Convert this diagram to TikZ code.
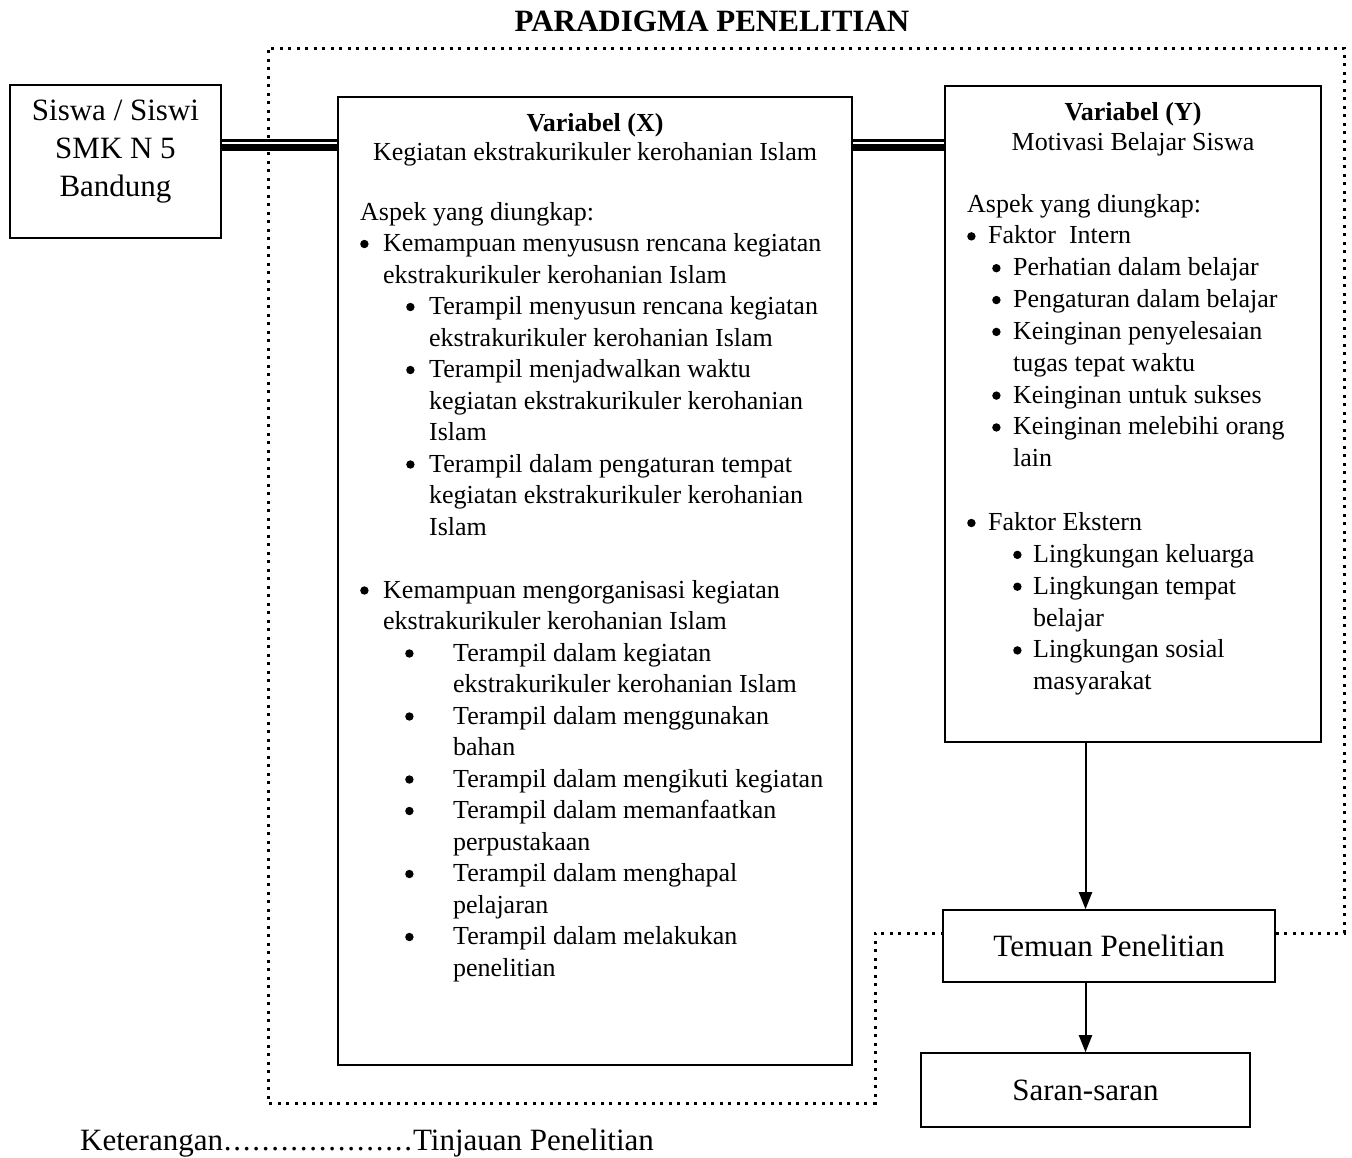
\documentclass[tikz,border=0pt]{standalone}
\usepackage{fontspec}
\setmainfont{Liberation Serif}
\usetikzlibrary{arrows.meta}
\newcommand\bul{\tikz[baseline=0pt,x=1pt,y=1pt]\fill (4.2,7.5) circle[radius=4.2pt];}
\newcommand\itm[3]{\hspace*{#1pt}\makebox[#2pt][l]{\bul}#3\par}
\newcommand\cnt[2]{\hspace*{#1pt}#2\par}
\newcommand\blankln{\mbox{}\par}
\begin{document}
\begin{tikzpicture}[x=1pt,y=-1pt,
  box/.style={draw, line width=1.6pt, inner sep=0pt},
  arr/.style={line width=2pt, -{Triangle[length=17pt,width=13pt]}},
  dotline/.style={line width=3pt, dash pattern=on 3pt off 5.5pt},
  big/.style={font=\fontsize{31}{38}\selectfont},
  ]
\useasboundingbox (0,0) rectangle (1352,1157);
\node[font=\bfseries\fontsize{31}{38}\selectfont, anchor=base, inner sep=0pt] (title) at (712,31) {PARADIGMA PENELITIAN};

% Siswa box
\node[box, minimum width=211pt, minimum height=153pt] (siswa) at (115.5,161.5) {};
\node[big, align=center, inner sep=0pt] (siswatxt) at (115.5,152) {Siswa / Siswi\\SMK N 5\\Bandung};

% X box
\node[box, minimum width=514pt, minimum height=968pt] (xbox) at (595,581) {};
\node[anchor=base, inner sep=0pt] (xhead) at (595,131) {\parbox[t]{500pt}{\fontsize{26}{29}\selectfont\centering\textbf{Variabel (X)}\par Kegiatan ekstrakurikuler kerohanian Islam\par}};
\node[anchor=base west, inner sep=0pt] (xtxt) at (360,220) {\parbox[t]{490pt}{\fontsize{26}{31.5}\selectfont\raggedright\parindent=0pt\parskip=0pt
Aspek yang diungkap:\par
\itm{0}{23}{Kemampuan menyususn rencana kegiatan}
\cnt{23}{ekstrakurikuler kerohanian Islam}
\itm{46}{23}{Terampil menyusun rencana kegiatan}
\cnt{69}{ekstrakurikuler kerohanian Islam}
\itm{46}{23}{Terampil menjadwalkan waktu}
\cnt{69}{kegiatan ekstrakurikuler kerohanian}
\cnt{69}{Islam}
\itm{46}{23}{Terampil dalam pengaturan tempat}
\cnt{69}{kegiatan ekstrakurikuler kerohanian}
\cnt{69}{Islam}
\blankln
\itm{0}{23}{Kemampuan mengorganisasi kegiatan}
\cnt{23}{ekstrakurikuler kerohanian Islam}
\itm{45}{48}{Terampil dalam kegiatan}
\cnt{93}{ekstrakurikuler kerohanian Islam}
\itm{45}{48}{Terampil dalam menggunakan}
\cnt{93}{bahan}
\itm{45}{48}{Terampil dalam mengikuti kegiatan}
\itm{45}{48}{Terampil dalam memanfaatkan}
\cnt{93}{perpustakaan}
\itm{45}{48}{Terampil dalam menghapal}
\cnt{93}{pelajaran}
\itm{45}{48}{Terampil dalam melakukan}
\cnt{93}{penelitian}
}};

% Y box
\node[box, minimum width=376pt, minimum height=656pt] (ybox) at (1133,414) {};
\node[anchor=base, inner sep=0pt] (yhead) at (1133,120) {\parbox[t]{360pt}{\fontsize{26}{30}\selectfont\centering\textbf{Variabel (Y)}\par Motivasi Belajar Siswa\par}};
\node[anchor=base west, inner sep=0pt] (ytxt) at (967,212) {\parbox[t]{350pt}{\fontsize{26}{31.85}\selectfont\raggedright\parindent=0pt\parskip=0pt
Aspek yang diungkap:\par
\itm{0}{21}{Faktor\ \ Intern}
\itm{25}{21}{Perhatian dalam belajar}
\itm{25}{21}{Pengaturan dalam belajar}
\itm{25}{21}{Keinginan penyelesaian}
\cnt{46}{tugas tepat waktu}
\itm{25}{21}{Keinginan untuk sukses}
\itm{25}{21}{Keinginan melebihi orang}
\cnt{46}{lain}
\blankln
\itm{0}{21}{Faktor Ekstern}
\itm{46}{20}{Lingkungan keluarga}
\itm{46}{20}{Lingkungan tempat}
\cnt{66}{belajar}
\itm{46}{20}{Lingkungan sosial}
\cnt{66}{masyarakat}
}};

% Temuan & Saran
\node[box, big, minimum width=332pt, minimum height=72pt] (temuan) at (1109,946) {Temuan Penelitian};
\node[box, big, minimum width=329pt, minimum height=74pt] (saran) at (1085.5,1090) {Saran-saran};

% arrows
\draw[arr] (saran.north |- ybox.south) -- (saran.north |- temuan.north);
\draw[arr] (saran.north |- temuan.south) -- (saran.north);

% double connectors
\draw[line width=2.5pt] ([yshift=21pt]siswa.east) -- ([yshift=21pt]siswa.east -| xbox.west);
\draw[line width=7pt] ([yshift=14pt]siswa.east) -- ([yshift=14pt]siswa.east -| xbox.west);
\draw[line width=2.5pt] ([yshift=21pt]siswa.east -| xbox.east) -- ([yshift=21pt]siswa.east -| ybox.west);
\draw[line width=7pt] ([yshift=14pt]siswa.east -| xbox.east) -- ([yshift=14pt]siswa.east -| ybox.west);

% dotted frame
\draw[dotline] ([yshift=13pt]temuan.east) -| (1344,48) -| (268,1103) -| (875,933) -- ([yshift=13pt]temuan.west);

% legend
\node[anchor=base west, inner sep=0pt, big] (ket) at (80,1150) {Keterangan\cleaders\hbox to 9.5pt{\hss.\hss}\hskip 190pt\relax Tinjauan Penelitian};
\end{tikzpicture}
\end{document}
